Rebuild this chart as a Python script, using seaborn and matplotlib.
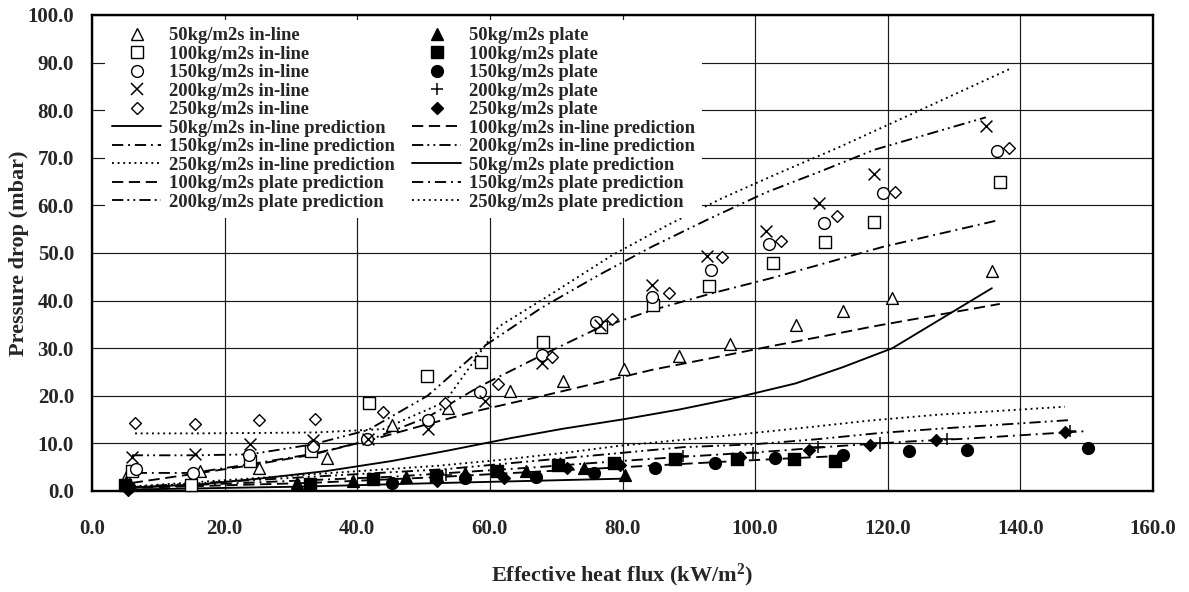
import matplotlib
matplotlib.use('Agg')
import matplotlib.pyplot as plt
from matplotlib.lines import Line2D
from matplotlib.ticker import FormatStrFormatter
import seaborn as sns

# measured pressure drop, in-line tube bundle (x = heat flux kW/m2, y = mbar)
x_in50 = [5.2, 16.3, 25.2, 35.4, 45.2, 53.7, 63.1, 71.1, 80.3, 88.5, 96.2, 106.1, 113.2, 120.7, 135.7]
y_in50 = [3.0, 4.2, 4.9, 6.9, 13.9, 17.4, 21.0, 23.1, 25.6, 28.4, 30.9, 34.9, 37.9, 40.6, 46.2]
x_in100 = [6.0, 14.9, 23.9, 33.1, 41.7, 50.5, 58.6, 68.0, 76.8, 84.6, 93.0, 102.7, 110.6, 117.9, 136.9]
y_in100 = [4.1, 1.3, 6.4, 8.4, 18.4, 24.2, 27.0, 31.4, 34.4, 39.1, 43.1, 48.0, 52.4, 56.6, 65.0]
x_in150 = [6.6, 15.2, 23.7, 33.3, 41.4, 50.6, 58.5, 67.8, 76.0, 84.5, 93.4, 102.1, 110.4, 119.3, 136.4]
y_in150 = [4.6, 3.8, 7.6, 9.5, 10.9, 14.9, 20.9, 28.6, 35.4, 40.7, 46.4, 51.9, 56.4, 62.7, 71.4]
x_in200 = [6.0, 15.5, 23.8, 33.3, 41.6, 50.6, 59.2, 67.8, 76.6, 84.4, 92.8, 101.6, 109.6, 118.0, 134.8]
y_in200 = [7.1, 7.8, 9.9, 10.7, 10.9, 13.0, 18.9, 26.8, 34.9, 43.3, 49.4, 54.7, 60.4, 66.5, 76.7]
x_in250 = [6.5, 15.5, 25.2, 33.7, 43.9, 53.2, 61.3, 69.4, 78.4, 87.0, 95.0, 103.9, 112.3, 121.1, 138.3]
y_in250 = [14.3, 14.1, 14.9, 15.1, 16.7, 18.4, 22.4, 28.2, 36.1, 41.7, 49.1, 52.5, 57.8, 62.9, 72.0]

# measured pressure drop, plate fin
x_pl50 = [5.2, 30.9, 39.4, 47.4, 56.2, 65.5, 74.2, 80.4]
y_pl50 = [1.8, 1.6, 2.2, 3.0, 3.7, 4.3, 4.8, 3.4]
x_pl100 = [5.0, 32.9, 42.3, 51.9, 61.0, 70.3, 78.7, 87.9, 97.2, 105.8, 112.0]
y_pl100 = [1.3, 1.4, 2.5, 3.2, 4.3, 5.5, 5.9, 6.7, 6.7, 6.7, 6.3]
x_pl150 = [5.6, 45.3, 56.2, 67.0, 75.7, 84.9, 93.9, 103.0, 113.2, 123.2, 131.9, 150.2]
y_pl150 = [0.9, 1.7, 2.7, 3.0, 3.7, 4.9, 5.9, 7.0, 7.6, 8.4, 8.6, 9.0]
x_pl200 = [5.5, 53.4, 89.1, 99.7, 109.5, 118.9, 128.9, 147.5]
y_pl200 = [1.0, 3.4, 7.4, 8.0, 9.2, 10.1, 10.9, 12.7]
x_pl250 = [5.5, 52.1, 62.1, 71.7, 79.6, 97.7, 108.1, 117.3, 127.3, 146.7]
y_pl250 = [0.2, 2.0, 2.7, 4.8, 5.5, 7.2, 8.6, 9.7, 10.7, 12.5]

# predictions (same x as the measurements)
p_in50 = [0.7, 1.4, 2.6, 4.2, 6.3, 8.5, 11.1, 13.1, 15.1, 17.1, 19.3, 22.6, 26.0, 30.0, 42.6]
p_in100 = [1.7, 3.5, 5.4, 7.6, 10.6, 14.0, 17.0, 20.0, 22.9, 25.5, 27.8, 30.5, 32.6, 34.6, 39.3]
p_in150 = [3.8, 3.8, 5.6, 7.8, 10.5, 15.5, 22.0, 28.5, 34.0, 38.0, 41.5, 44.6, 47.8, 51.3, 56.8]
p_in200 = [7.5, 7.5, 7.7, 9.8, 12.8, 20.0, 30.5, 38.5, 45.5, 51.3, 57.0, 62.7, 67.0, 71.7, 78.5]
p_in250 = [12.1, 12.1, 12.2, 12.3, 13.0, 18.7, 34.5, 41.5, 49.5, 56.0, 61.5, 67.0, 72.0, 77.6, 88.6]
p_pl50 = [0.3, 0.9, 1.2, 1.5, 1.8, 2.1, 2.4, 2.6]
p_pl100 = [0.6, 1.7, 2.3, 2.9, 3.6, 4.3, 4.9, 5.6, 6.3, 6.9, 7.3]
p_pl150 = [0.7, 3.0, 4.0, 5.0, 5.9, 6.8, 7.6, 8.4, 9.5, 10.4, 11.0, 12.6]
p_pl200 = [0.8, 4.6, 9.2, 9.8, 10.9, 12.2, 13.2, 14.9]
p_pl250 = [0.9, 5.3, 6.6, 8.1, 9.5, 11.9, 13.4, 14.8, 16.0, 17.7]

x_ticks = [0, 20, 40, 60, 80, 100, 120, 140, 160]
y_ticks = [0, 10, 20, 30, 40, 50, 60, 70, 80, 90, 100]

sns.set_style('white')
plt.rcParams['font.family'] = ['Liberation Serif', 'DejaVu Serif']
plt.rcParams['font.weight'] = 'bold'
plt.rcParams['mathtext.fontset'] = 'custom'
plt.rcParams['mathtext.rm'] = 'Liberation Serif:bold'
plt.rcParams['mathtext.bf'] = 'Liberation Serif:bold'
plt.rcParams['mathtext.default'] = 'bf'

fig = plt.figure(figsize=(11.89, 5.92), dpi=100)
ax = fig.add_axes([92 / 1189, 1 - 491 / 592, 1061 / 1189, 476 / 592])

# line styles
solid = '-'
dash = (0, (6, 3))
dashdot = (0, (6, 2.6, 1, 2.6))
dashdotdot = (0, (6, 2.2, 1, 2.2, 1, 2.2))
dots = (0, (1, 2))
LW = 1.35

preds = [
    (x_in50, p_in50, solid), (x_in100, p_in100, dash), (x_in150, p_in150, dashdot),
    (x_in200, p_in200, dashdotdot), (x_in250, p_in250, dots),
    (x_pl50, p_pl50, solid), (x_pl100, p_pl100, dash), (x_pl150, p_pl150, dashdot),
    (x_pl200, p_pl200, dashdotdot), (x_pl250, p_pl250, dots),
]
for xs, ys, ls in preds:
    sns.lineplot(x=xs, y=ys, ax=ax, color='black', lw=LW, linestyle=ls,
                 estimator=None, sort=False, zorder=2)

MS = 8.5
open_kw = dict(color='black', facecolor='white', edgecolor='black', linewidth=1.0, zorder=3, clip_on=False)
full_kw = dict(color='black', edgecolor='black', linewidth=1.0, zorder=3, clip_on=False)

sns.scatterplot(x=x_in50, y=y_in50, ax=ax, marker='^', s=MS**2, **open_kw)
sns.scatterplot(x=x_in100, y=y_in100, ax=ax, marker='s', s=MS**2, **open_kw)
sns.scatterplot(x=x_in150, y=y_in150, ax=ax, marker='o', s=MS**2, **open_kw)
sns.scatterplot(x=x_in200, y=y_in200, ax=ax, marker='x', s=MS**2, color='black', linewidth=1.1, zorder=3)
sns.scatterplot(x=x_in250, y=y_in250, ax=ax, marker='D', s=6**2, **open_kw)

sns.scatterplot(x=x_pl50, y=y_pl50, ax=ax, marker='^', s=MS**2, **full_kw)
sns.scatterplot(x=x_pl100, y=y_pl100, ax=ax, marker='s', s=MS**2, **full_kw)
sns.scatterplot(x=x_pl150, y=y_pl150, ax=ax, marker='o', s=MS**2, **full_kw)
sns.scatterplot(x=x_pl200, y=y_pl200, ax=ax, marker='+', s=MS**2, color='black', linewidth=1.1, zorder=3, clip_on=False)
sns.scatterplot(x=x_pl250, y=y_pl250, ax=ax, marker='D', s=6**2, **full_kw)

ax.set_xlim(0, 160)
ax.set_ylim(0, 100)
ax.set_xticks(x_ticks)
ax.set_yticks(y_ticks)
ax.xaxis.set_major_formatter(FormatStrFormatter('%.1f'))
ax.yaxis.set_major_formatter(FormatStrFormatter('%.1f'))
ax.tick_params(axis='x', length=0, pad=20, labelsize=15)
ax.tick_params(axis='y', length=0, pad=13, labelsize=15)
ax.grid(True, color='#1a1a1a', lw=0.85)
ax.set_axisbelow(True)
for sp in ax.spines.values():
    sp.set_visible(True)
    sp.set_color('black')
    sp.set_linewidth(1.7)

ax.set_xlabel('Effective heat flux (kW/m$^2$)', fontsize=16, fontweight='bold')
ax.set_ylabel('Pressure drop (mbar)', fontsize=16, fontweight='bold')
ax.xaxis.set_label_coords(0.5, -0.1775)
ax.xaxis.label.set_va('center')
ax.yaxis.set_label_coords(-0.069, 0.5)
ax.yaxis.label.set_va('center')


def mk(m, filled, ms=MS):
    return Line2D([], [], ls='none', marker=m, ms=ms, mew=1.0 if m not in 'x+' else 1.1,
                  mfc='black' if filled else 'white', mec='black')


def ln(ls):
    return Line2D([], [], color='black', lw=LW, ls=ls)


handles = [
    mk('^', False), mk('s', False), mk('o', False), mk('x', False), mk('D', False, 6),
    ln(solid), ln(dashdot), ln(dots), ln(dash), ln(dashdotdot),
    mk('^', True), mk('s', True), mk('o', True), mk('+', True), mk('D', True, 6),
    ln(dash), ln(dashdotdot), ln(solid), ln(dashdot), ln(dots),
]
labels = [
    '50kg/m2s in-line', '100kg/m2s in-line', '150kg/m2s in-line', '200kg/m2s in-line', '250kg/m2s in-line',
    '50kg/m2s in-line prediction', '150kg/m2s in-line prediction', '250kg/m2s in-line prediction',
    '100kg/m2s plate prediction', '200kg/m2s plate prediction',
    '50kg/m2s plate', '100kg/m2s plate', '150kg/m2s plate', '200kg/m2s plate', '250kg/m2s plate',
    '100kg/m2s in-line prediction', '200kg/m2s in-line prediction', '50kg/m2s plate prediction',
    '150kg/m2s plate prediction', '250kg/m2s plate prediction',
]
ax.legend(handles, labels, ncol=2, loc='upper left', bbox_to_anchor=(0.0119, 0.99),
          borderaxespad=0, borderpad=0.4, frameon=True, facecolor='white', edgecolor='none',
          framealpha=1, fancybox=False, handlelength=2.63, handletextpad=0.42,
          columnspacing=0.94, labelspacing=0.08, prop={'size': 13.4, 'weight': 'bold'})

fig.savefig('out.png', dpi=100)
